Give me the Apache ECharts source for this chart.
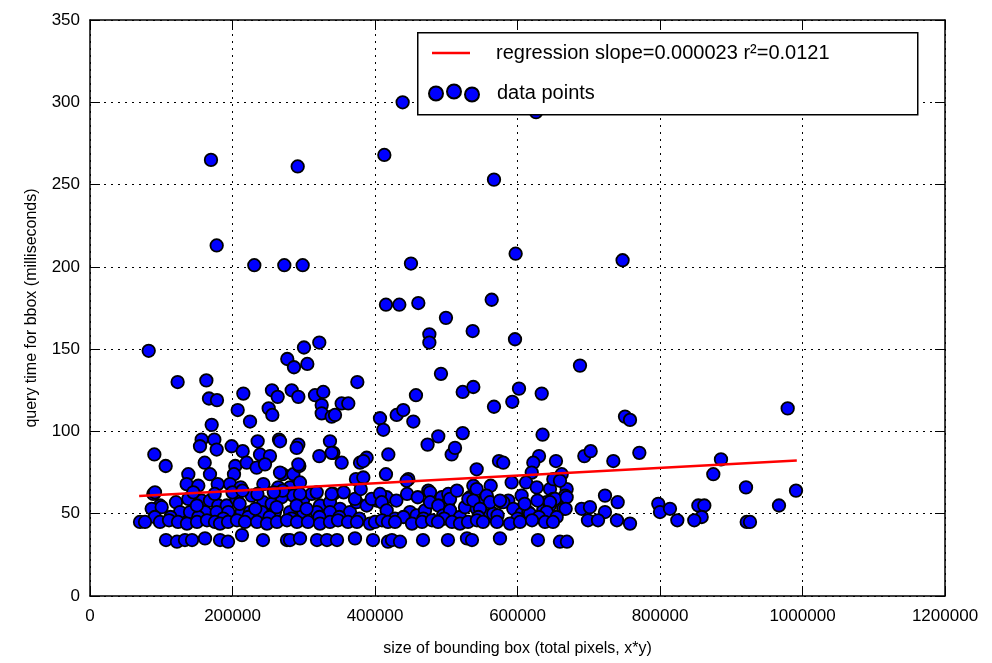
<!DOCTYPE html>
<html>
<head>
<meta charset="utf-8">
<script src="https://cdn.jsdelivr.net/npm/echarts@6/dist/echarts.min.js"></script>
<style>
html, body { margin: 0; padding: 0; background: #fff; }
#chart { width: 992px; height: 663px; }
</style>
</head>
<body>
<div id="chart"></div>
<script>
// axis ticks
var xTicks = [0, 200000, 400000, 600000, 800000, 1000000, 1200000];
var yTicks = [0, 50, 100, 150, 200, 250, 300, 350];

// regression line end points
var regX = [69000, 992000];
var regY = [60.8, 82.3];

// scatter points [size, ms]
var highPoints = [
    [82400,149],[169800,265],[177800,213],[230600,201],[272700,201],[298500,201],
    [291500,261],[413100,268],[438800,300],[626000,294],[567000,253],[450500,202],
    [597400,208],[747500,204],[415400,177],[434100,177],[460800,178],[499600,169],
    [563800,180],[537100,161],[476300,159],[476300,154],[596500,156],[300300,151],
    [321800,154],[276900,144],[286300,139],[305000,141],[687700,140]
];
var upperPoints = [
    [123000,130],[163300,131],[167000,120],[178200,119],[215200,123],[207300,113],
    [224600,106],[255400,125],[263400,121],[250800,114],[255900,110],[283100,125],
    [170800,104],[156700,95],[154400,91],[174500,95],[177800,89],[198800,91],
    [214300,88],[235300,94],[265300,95],[90300,86],[292400,121],[315800,122],
    [327400,124],[325200,116],[325200,111],[339200,109],[343900,110],[353200,117],
    [362500,117],[375200,130],[407000,108],[411700,101],[430400,110],[439700,113],
    [453800,106],[457500,122],[492600,135],[523100,124],[538000,127],[266700,94],
    [292400,92],[290000,90],[336800,94],[341500,87],[321800,85],[418700,86],
    [473800,92],[488800,97],[507600,86],[512300,90],[523100,99],[602100,126],
    [634000,123],[567000,115],[592700,118],[635200,98],[750900,109],[757900,107],
    [979200,114],[238600,86],[252600,85],[339200,87],[388300,84],[630200,85],
    [693800,85],[702700,88],[771000,87],[885600,83]
];
var midPoints = [
    [574000,82],[580000,81],[654000,82],[734500,82],[622200,81],
    [106200,79],[161000,81],[168400,74],[138000,74],[203900,79],[202100,74],
    [219900,81],[233900,78],[245600,80],[270400,74],[266700,75],[285400,74],
    [293800,79],[292400,80],[353200,81],[373300,71],[383600,72],[379000,81],
    [383600,82],[415400,74],[446800,71],[542700,77],[620000,75],[662000,74],
    [874800,74],[135600,68],[152000,67],[179200,68],[196500,68],[211500,66],
    [243300,68],[264300,66],[280700,66],[294700,69],[538000,67],[562400,67],
    [591800,69],[612000,69],[627000,66],[645600,65],[650300,71],[669000,65],
    [659600,70],[444400,70],[920700,66],[990900,64]
];
var bandPoints = [
    [88900,62],[91200,63],[98200,55],[86600,53],[100600,54],[120700,57],[138000,59],
    [156700,58],[168400,58],[180100,55],[191900,55],[205800,59],[226900,61],
    [243300,57],[255000,56],[269000,60],[285400,61],[299400,59],[311200,62],
    [318200,63],[341500,62],[322800,55],[336800,57],[350900,53],[364900,51],
    [374300,57],[388300,55],[402400,58],[416400,60],[270400,64],[294700,62],
    [339200,62],[371900,59],[395400,59],[407000,62],[474800,64],[493600,60],
    [502900,57],[533300,60],[542700,65],[477200,63],[502900,62],[505300,59],
    [556700,60],[577700,57],[587100,58],[605800,61],[640900,57],[650300,59],
    [666800,61],[409400,57],[416400,52],[428100,47],[449100,51],[458500,49],
    [470200,52],[477200,57],[488800,55],[495800,49],[505300,52],[519300,48],
    [526300,54],[531000,59],[542700,53],[554400,59],[556700,49],[566000,50],
    [580000,57],[594100,53],[605800,50],[615200,51],[636200,52],[645600,55],
    [652600,59],[664300,53],[669000,60],[556700,61],[561400,57],[645600,57],
    [667600,53],[690000,53],[701700,54],[722800,61],[740600,57],[722800,51],
    [538000,58],[547400,53],[575400,58],[617500,50],[641000,51],[655000,48],
    [797600,56],[800000,51],[814000,53],[853800,55],[862200,55],[967000,55],
    [858500,48],
    [126300,51],[140400,51],[161400,51],[177800,51],[194100,51],[212900,51],
    [224600,51],[241000,51],[259600,51],[280700,51],[299400,51],[318200,51],[336800,51],
    [91000,48],[113000,48],[152000,48],[187000,47],[222000,48],[252000,48],
    [283000,47],[322000,48],[350000,48],[378000,47],[440000,48],[468000,47],
    [497000,47],[545000,48],[572000,49],[600000,47],[630000,48],
    [145000,63],[175000,62],[200000,63],[214000,64],[235000,62],[258000,63],
    [150000,55],[210000,56],[232000,53],[262000,54],[290000,55],[304000,53],
    [356000,63],[380000,65],[430000,58],[445000,62],[460000,60],[515000,64],
    [610000,56],[628000,58]
];
var row45 = [
    [70200,45],[77200,45],[98200,45],[110900,46],[123500,45],[136100,44],[150200,45],
    [164200,46],[175400,45],[182500,44],[193700,45],[206300,46],[217500,45],[234400,45],
    [248400,44],[262400,45],[276500,46],[290500,45],[305900,45],[322800,44],[336800,45],
    [348100,46],[362100,45],[374700,45],[393000,44],[400000,45],[409800,46],[418200,45],
    [428100,45],[451900,44],[466000,45],[480000,46],[488400,45],[508100,45],[519300,44],
    [530500,45],[543100,46],[551600,45],[571200,45],[589500,44],[603500,45],[620400,46],
    [638600,45],[649800,45],[698900,46],[713000,46],[739600,46],[757900,44],[824300,46],
    [848100,46],[921700,45],[926300,45]
];
var row34 = [
    [106700,34],[122100,33],[133300,34],[143200,34],[161400,35],[182500,34],[193700,33],
    [213300,37],[242800,34],[276500,34],[280700,34],[294700,35],[318600,34],[332600,34],
    [346700,34],[371900,35],[397200,34],[418200,33],[423800,34],[435100,33],[467400,34],
    [502400,34],[529100,35],[536100,34],[575400,35],[628700,34],[659600,33],[669400,33]
];

var regName = 'regression slope=0.000023 r\u00b2=0.0121';
var fontFam = '"Liberation Sans", Arial, sans-serif';
var threeDots = 'path://M0,9a7,7 0 1,0 14,0a7,7 0 1,0 -14,0ZM18,7a7,7 0 1,0 14,0a7,7 0 1,0 -14,0ZM36,10a7,7 0 1,0 14,0a7,7 0 1,0 -14,0Z';

var allPoints = highPoints.concat(upperPoints, midPoints, bandPoints, row45, row34);
var regLine = regX.map(function (x, i) { return [x, regY[i]]; });

function plain(v) { return String(v); }

var chart = echarts.init(document.getElementById('chart'));
var dotted = { show: true, lineStyle: { color: '#000', width: 1, type: [2, 5] } };

var option = {
    animation: false,
    backgroundColor: '#fff',
    textStyle: { fontFamily: fontFam },
    grid: { left: 90, right: 47, top: 20, bottom: 67 },
    graphic: [{
        type: 'rect', left: 417, top: 32, z: 10,
        shape: { width: 500, height: 82 },
        style: { fill: '#fff', stroke: '#000', lineWidth: 1.5 }
    }],
    legend: [{
        data: [{ name: regName, icon: 'rect', itemStyle: { color: '#ff0000', borderWidth: 0 } }],
        left: 432, top: 43, padding: 0, z: 11,
        selectedMode: false,
        itemWidth: 38, itemHeight: 2.5,
        textStyle: { fontSize: 20, color: '#000', fontFamily: fontFam, padding: [0, 0, 0, 21] }
    }, {
        data: [{ name: 'data points', icon: threeDots }],
        left: 428, top: 83, padding: 0, z: 11,
        selectedMode: false,
        itemWidth: 50, itemHeight: 17,
        textStyle: { fontSize: 20, color: '#000', fontFamily: fontFam, padding: [0, 0, 0, 13] }
    }],
    xAxis: [{
        type: 'value', min: xTicks[0], max: xTicks[xTicks.length - 1], interval: 200000,
        position: 'bottom',
        name: 'size of bounding box (total pixels, x*y)',
        nameLocation: 'middle', nameGap: 45,
        nameTextStyle: { fontSize: 16, color: '#000', fontFamily: fontFam },
        axisLine: { show: true, onZero: false, lineStyle: { color: '#000', width: 1.5 } },
        axisTick: { show: true, inside: true, length: 10, lineStyle: { color: '#000' } },
        axisLabel: { color: '#000', fontSize: 17, margin: 12, formatter: plain },
        splitLine: dotted
    }, {
        type: 'value', min: xTicks[0], max: xTicks[xTicks.length - 1], interval: 200000,
        position: 'top',
        axisLine: { show: true, onZero: false, lineStyle: { color: '#000', width: 1.5 } },
        axisTick: { show: true, inside: true, length: 10, lineStyle: { color: '#000' } },
        axisLabel: { show: false },
        splitLine: { show: false }
    }],
    yAxis: [{
        type: 'value', min: yTicks[0], max: yTicks[yTicks.length - 1], interval: 50,
        position: 'left',
        name: 'query time for bbox (milliseconds)',
        nameLocation: 'middle', nameGap: 50,
        nameTextStyle: { fontSize: 16, color: '#000', fontFamily: fontFam },
        axisLine: { show: true, onZero: false, lineStyle: { color: '#000', width: 1.5 } },
        axisTick: { show: true, inside: true, length: 10, lineStyle: { color: '#000' } },
        axisLabel: { color: '#000', fontSize: 17, margin: 10, formatter: plain },
        splitLine: dotted
    }, {
        type: 'value', min: yTicks[0], max: yTicks[yTicks.length - 1], interval: 50,
        position: 'right',
        axisLine: { show: true, onZero: false, lineStyle: { color: '#000', width: 1.5 } },
        axisTick: { show: true, inside: true, length: 10, lineStyle: { color: '#000' } },
        axisLabel: { show: false },
        splitLine: { show: false }
    }],
    series: [{
        name: regName,
        type: 'line',
        data: regLine,
        symbol: 'none',
        z: 5,
        lineStyle: { color: '#ff0000', width: 2.5 },
        itemStyle: { color: '#ff0000' }
    }, {
        name: 'data points',
        type: 'scatter',
        data: allPoints,
        symbol: 'circle',
        symbolSize: 12.5,
        z: 3,
        itemStyle: { color: '#0000ff', borderColor: '#000', borderWidth: 1.8, opacity: 1 },
        emphasis: { disabled: true }
    }]
};
chart.setOption(option);
window.onresize = chart.resize;
</script>
</body>
</html>
